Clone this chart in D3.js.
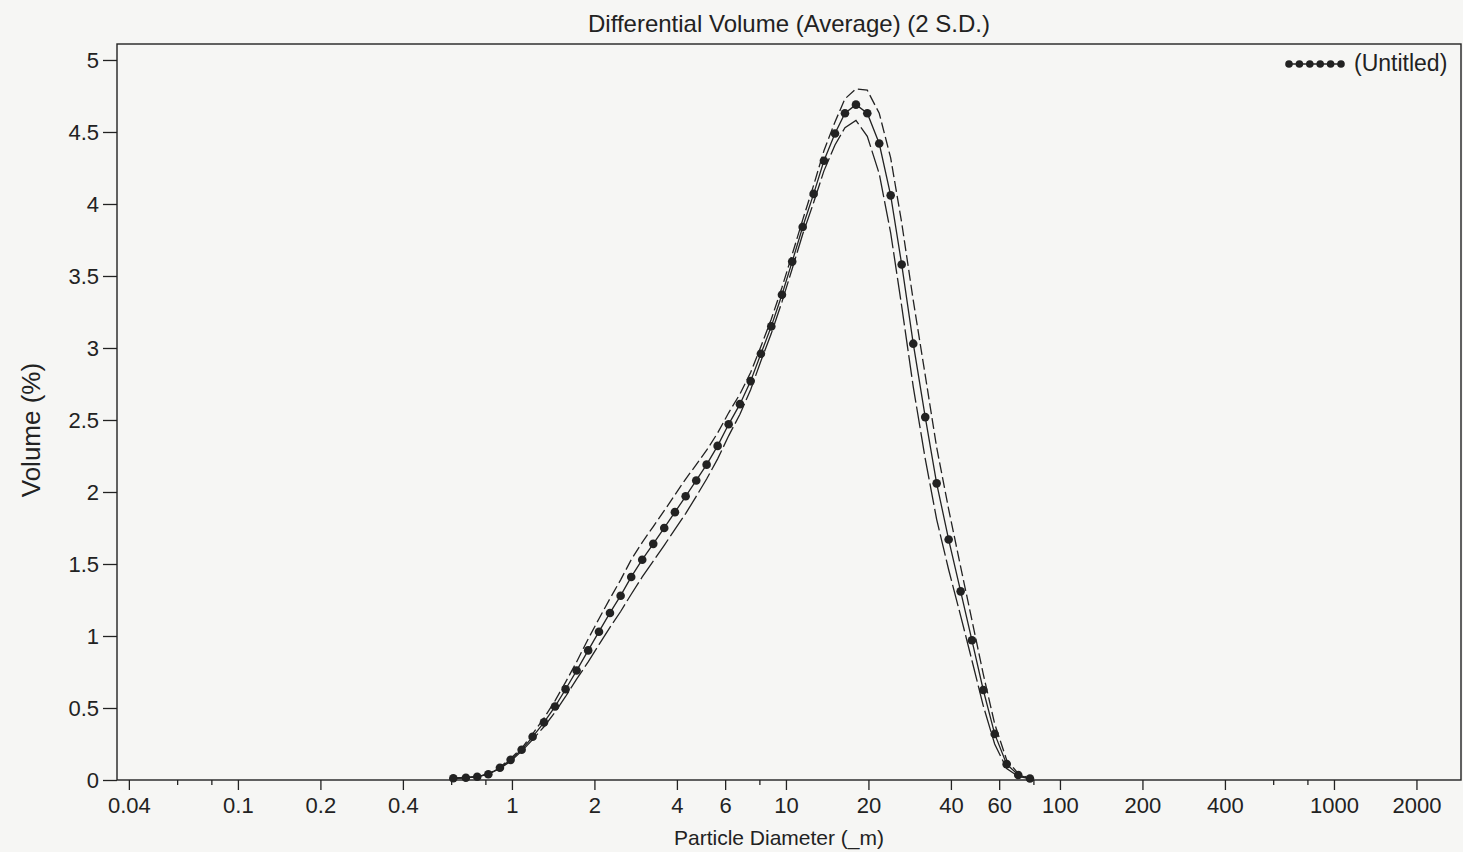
<!DOCTYPE html>
<html>
<head>
<meta charset="utf-8">
<script src="https://cdn.jsdelivr.net/npm/d3@7"></script>
<style>
  body { margin: 0; background: #f6f6f4; }
  svg text { font-family: "Liberation Sans", Arial, sans-serif; fill: #222; }
</style>
</head>
<body>
<div id="my_dataviz"></div>
<script>
// channel diameters (um)
var diameters = [0.611, 0.679, 0.747, 0.820, 0.904, 0.989, 1.085, 1.190, 1.309, 1.436,
    1.570, 1.722, 1.898, 2.078, 2.279, 2.493, 2.725, 2.989, 3.279, 3.596,
    3.934, 4.305, 4.706, 5.135, 5.632, 6.179, 6.794, 7.432, 8.102, 8.840,
    9.670, 10.54, 11.51, 12.62, 13.76, 15.10, 16.42, 18.01, 19.81, 21.90,
    24.11, 26.45, 29.15, 32.24, 35.48, 39.25, 43.41, 47.73, 52.50, 57.77,
    63.89, 70.43, 77.72];

// average differential volume (%)
var volume = [0.012, 0.016, 0.023, 0.04, 0.085, 0.14, 0.21, 0.30, 0.40, 0.51,
    0.63, 0.76, 0.90, 1.03, 1.16, 1.28, 1.41, 1.53, 1.64, 1.75,
    1.86, 1.97, 2.08, 2.19, 2.32, 2.47, 2.61, 2.77, 2.96, 3.15,
    3.37, 3.60, 3.84, 4.07, 4.30, 4.49, 4.63, 4.69, 4.63, 4.42,
    4.06, 3.58, 3.03, 2.52, 2.06, 1.67, 1.31, 0.97, 0.625, 0.32,
    0.11, 0.035, 0.01];

// 2 S.D. band half width
var twoSD = [0, 0, 0, 0, 0.005, 0.01, 0.01, 0.02, 0.03, 0.04,
    0.05, 0.06, 0.08, 0.09, 0.10, 0.11, 0.12, 0.12, 0.12, 0.12,
    0.12, 0.12, 0.11, 0.10, 0.09, 0.08, 0.07, 0.06, 0.05, 0.05,
    0.05, 0.05, 0.05, 0.06, 0.07, 0.08, 0.10, 0.11, 0.16, 0.21,
    0.26, 0.29, 0.30, 0.29, 0.25, 0.21, 0.17, 0.14, 0.11, 0.07,
    0.03, 0.01, 0];

var xTickLabels = [0.04, 0.1, 0.2, 0.4, 1, 2, 4, 6, 10, 20, 40, 60, 100, 200, 400, 1000, 2000];
var xMinorTicks = [0.06, 0.08, 0.6, 0.8, 8, 80, 600, 800];
var yTicks = [0, 0.5, 1, 1.5, 2, 2.5, 3, 3.5, 4, 4.5, 5];
var seriesName = "(Untitled)";

var W = 1463, H = 852;
var margin = {top: 44, right: 2, bottom: 72, left: 117},
    width = W - margin.left - margin.right,
    height = H - margin.top - margin.bottom;

var svg = d3.select("#my_dataviz")
    .append("svg")
    .attr("width", W)
    .attr("height", H);

var g = svg.append("g")
    .attr("transform", "translate(" + margin.left + "," + margin.top + ")");

var x = d3.scaleLog().domain([0.0362, 2908]).range([0, width]);
var y = d3.scaleLinear().domain([0, 5.111]).range([height, 0]);

var data = diameters.map(function(d, i) {
    return {d: d, v: volume[i], hi: volume[i] + twoSD[i], lo: Math.max(0, volume[i] - twoSD[i])};
});

// frame
g.append("rect")
    .attr("width", width)
    .attr("height", height)
    .attr("fill", "none")
    .attr("stroke", "#222")
    .attr("stroke-width", 1.4);

// y axis
var yAxis = g.append("g")
    .call(d3.axisLeft(y).tickValues(yTicks).tickSize(14).tickPadding(4)
        .tickFormat(function(d) { return d3.format("~g")(d); }));
yAxis.select(".domain").remove();
yAxis.selectAll("line").attr("stroke", "#222").attr("stroke-width", 1.3);
yAxis.selectAll("text").attr("font-size", "22px").attr("fill", "#222");

// x axis, labelled ticks
var xAxis = g.append("g")
    .attr("transform", "translate(0," + height + ")")
    .call(d3.axisBottom(x).tickValues(xTickLabels).tickSize(10).tickPadding(7)
        .tickFormat(function(d) { return d3.format("~g")(d); }));
xAxis.select(".domain").remove();
xAxis.selectAll("line").attr("stroke", "#222").attr("stroke-width", 1.3);
xAxis.selectAll("text").attr("font-size", "22px").attr("fill", "#222");

// minor ticks
var xMinor = g.append("g")
    .attr("transform", "translate(0," + height + ")")
    .call(d3.axisBottom(x).tickValues(xMinorTicks).tickSize(5).tickFormat(""));
xMinor.select(".domain").remove();
xMinor.selectAll("line").attr("stroke", "#222").attr("stroke-width", 1.3);

// 2 S.D. bounds
var lineHi = d3.line().x(function(d) { return x(d.d); }).y(function(d) { return y(d.hi); });
var lineLo = d3.line().x(function(d) { return x(d.d); }).y(function(d) { return y(d.lo); });
var lineMean = d3.line().x(function(d) { return x(d.d); }).y(function(d) { return y(d.v); });

g.append("path")
    .datum(data)
    .attr("d", lineHi)
    .attr("fill", "none")
    .attr("stroke", "#222")
    .attr("stroke-width", 1.3)
    .attr("stroke-dasharray", "11,4");

g.append("path")
    .datum(data)
    .attr("d", lineLo)
    .attr("fill", "none")
    .attr("stroke", "#222")
    .attr("stroke-width", 1.3)
    .attr("stroke-dasharray", "22,4");

// mean line and markers
g.append("path")
    .datum(data)
    .attr("d", lineMean)
    .attr("fill", "none")
    .attr("stroke", "#222")
    .attr("stroke-width", 1.3);

g.selectAll("circle.pt")
    .data(data)
    .enter()
    .append("circle")
    .attr("class", "pt")
    .attr("cx", function(d) { return x(d.d); })
    .attr("cy", function(d) { return y(d.v); })
    .attr("r", 4.3)
    .attr("fill", "#222");

// legend
var legend = g.append("g").attr("transform", "translate(" + (width - 172) + ",20)");
legend.append("line")
    .attr("x1", 0).attr("x2", 52)
    .attr("stroke", "#222").attr("stroke-width", 1.3);
legend.selectAll("circle")
    .data(d3.range(6))
    .enter()
    .append("circle")
    .attr("cx", function(d) { return d * 10.4; })
    .attr("r", 3.8)
    .attr("fill", "#222");
legend.append("text")
    .attr("x", 65)
    .attr("y", 1)
    .attr("dominant-baseline", "middle")
    .attr("font-size", "23px")
    .text(seriesName);

// titles
svg.append("text")
    .attr("x", margin.left + width / 2)
    .attr("y", 32)
    .attr("text-anchor", "middle")
    .attr("font-size", "24px")
    .text("Differential Volume (Average) (2 S.D.)");

svg.append("text")
    .attr("x", margin.left + width / 2 - 10)
    .attr("y", 845)
    .attr("text-anchor", "middle")
    .attr("font-size", "21px")
    .text("Particle Diameter (_m)");

svg.append("text")
    .attr("transform", "translate(40," + (margin.top + y(2.43)) + ") rotate(-90)")
    .attr("text-anchor", "middle")
    .attr("font-size", "26px")
    .text("Volume (%)");
</script>
</body>
</html>
